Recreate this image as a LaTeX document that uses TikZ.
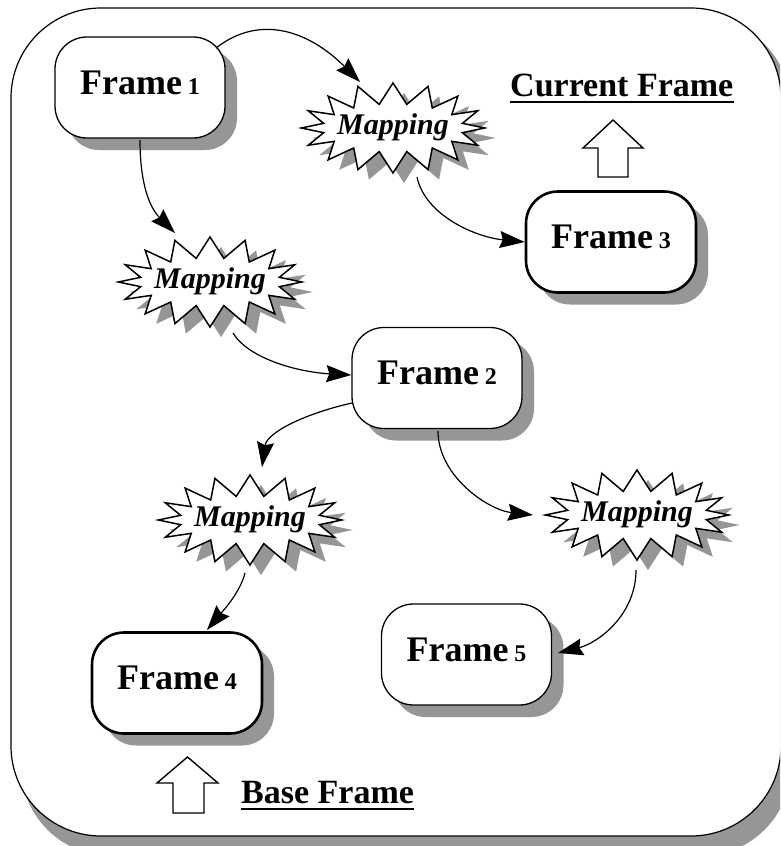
\documentclass[tikz,border=0pt]{standalone}
\usepackage{fontspec}
\setmainfont{Liberation Serif}
\usetikzlibrary{shapes.symbols,shadows,arrows.meta}
\definecolor{shadowgray}{RGB}{150,150,150}
\tikzset{
 framebox/.style={draw, line width=1.3pt, fill=white, rounded corners=32pt, minimum width=170pt, minimum height=101pt, inner sep=0pt, text height=25pt, text depth=12pt, drop shadow={shadow xshift=12pt, shadow yshift=-12pt, fill=shadowgray, opacity=1}},
 thickframe/.style={framebox, line width=2.6pt},
 mapstar/.style={starburst, starburst points=16, random starburst=0, starburst point height=21pt, draw, line width=1.5pt, fill=white, inner sep=0pt, text height=23pt, text depth=11pt, font=\fontsize{30}{32}\selectfont\bfseries\itshape, drop shadow={shadow xshift=11pt, shadow yshift=-10pt, fill=shadowgray, opacity=1}},
 conn/.style={line width=1.2pt, -{Stealth[length=25pt,width=17pt,inset=3pt]}},
 blockarrow/.style={draw, line width=1.4pt, fill=white},
 title/.style={inner sep=0pt, anchor=base west, font=\fontsize{34}{38}\selectfont\bfseries},
 uline/.style={line width=2pt},
}
\newcommand{\framelabel}[1]{{\fontsize{36}{40}\selectfont\bfseries Frame\fontsize{24}{28}\selectfont\ #1}}
\newcommand{\maptext}{\makebox[100pt][c]{Mapping}}
\begin{document}
\begin{tikzpicture}[x=1pt,y=-1pt]
\useasboundingbox (0,0) rectangle (780,846);
\clip (0,0) rectangle (780,846);
\fill[shadowgray, rounded corners=90pt] (21,18) rectangle (791,856);
\draw[fill=white, line width=1.2pt, rounded corners=90pt] (11,8) rectangle (781,836);

\node[framebox] (f1) at (140,87.5) {\framelabel{1}};
\node[thickframe] (f3) at (611,242) {\framelabel{3}};
\node[framebox] (f2) at (437,378) {\framelabel{2}};
\node[thickframe] (f4) at (177,683) {\framelabel{4}};
\node[framebox] (f5) at (466.5,654.5) {\framelabel{5}};
\node[mapstar] (m1) at (393,128) {\maptext};
\node[mapstar] (m2) at (210,282) {\maptext};
\node[mapstar] (m3) at (250,520) {\maptext};
\node[mapstar] (m4) at (637,515) {\maptext};

\draw[conn] ([shift={(76,-39.5)}]f1.center) .. controls +(45,-35) and +(-50,-50) .. ([shift={(-33,-46)}]m1.center);
\draw[conn] ([shift={(0,52.5)}]f1.center) .. controls +(0,45) and +(-25,-25) .. ([shift={(-35,-49)}]m2.center);
\draw[conn] ([shift={(24,49)}]m1.center) .. controls +(8,38) and +(-50,-5) .. (f3.west);
\draw[conn] ([shift={(23,51)}]m2.center) .. controls +(15,25) and +(-55,-3) .. ([shift={(0,-3)}]f2.west);
\draw[conn] ([shift={(-85,25)}]f2.center) .. controls +(-45,10) and +(5,-35) .. ([shift={(12,-53)}]m3.center);
\draw[conn] ([shift={(1,53)}]f2.center) .. controls +(0,45) and +(-45,-5) .. ([shift={(-104,0)}]m4.center);
\draw[conn] ([shift={(-1,55)}]m4.center) .. controls +(0,45) and +(40,-10) .. ([shift={(91.5,-1.5)}]f5.center);
\draw[conn] ([shift={(-5,53)}]m3.center) .. controls +(-5,20) and +(15,-18) .. ([shift={(30,-53)}]f4.center);

\draw[blockarrow] (613,120) -- (643,148) -- (628,148) -- (628,177) -- (598,177) -- (598,148) -- (583,148) -- cycle;
\draw[blockarrow] (187.5,757) -- (218,783) -- (204,783) -- (204,813) -- (173,813) -- (173,783) -- (157,783) -- cycle;

\node[title] (cur) at (510,96) {Current Frame};
\draw[uline] ([yshift=-6pt]cur.base west) -- ([yshift=-6pt]cur.base east);
\node[title] (base) at (241,803) {Base Frame};
\draw[uline] ([yshift=-6pt]base.base west) -- ([yshift=-6pt]base.base east);
\end{tikzpicture}
\end{document}
